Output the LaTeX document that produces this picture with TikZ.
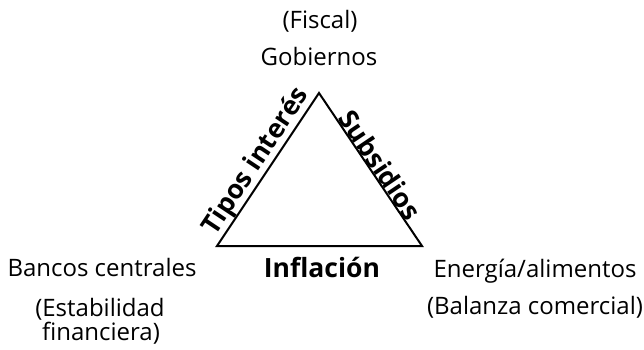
\documentclass[tikz,border=0pt]{standalone}
\usepackage{fontspec}
\setmainfont{Open Sans}
\begin{document}
\begin{tikzpicture}[x=1pt,y=-1pt,
  lbl/.style={inner sep=0pt, anchor=base, font=\fontsize{24}{24}\selectfont},
  side/.style={inner sep=0pt, font=\fontsize{26.5}{28}\selectfont\bfseries},
  tri/.style={draw=black, line width=2pt, line join=miter}]
\useasboundingbox (0,0) rectangle (644,350);
\coordinate (A) at (319,93);
\coordinate (L) at (217,246);
\coordinate (R) at (422,246);
\draw[tri] (A) -- (L) -- (R) -- cycle;
\path (L) -- node[side, sloped, above, inner sep=0.5pt] (tipos) {Tipos interés} (A);
\path (A) -- node[side, sloped, above, inner sep=0.5pt, pos=0.51] (subs) {Subsidios} (R);
\node[lbl] (fiscal) at (320,29) {(Fiscal)};
\node[lbl] (gob) at (319,66) {Gobiernos};
\node[side, anchor=base] (infl) at (322,277) {Inflación};
\node[lbl] (bancos) at (102,276) {Bancos centrales};
\node[lbl] (estab) at (100,316) {(Estabilidad};
\node[lbl] (fin) at (101,340) {financiera)};
\node[lbl] (energia) at (535,277) {Energía/alimentos};
\node[lbl] (balanza) at (535,314) {(Balanza comercial)};
\end{tikzpicture}
\end{document}
